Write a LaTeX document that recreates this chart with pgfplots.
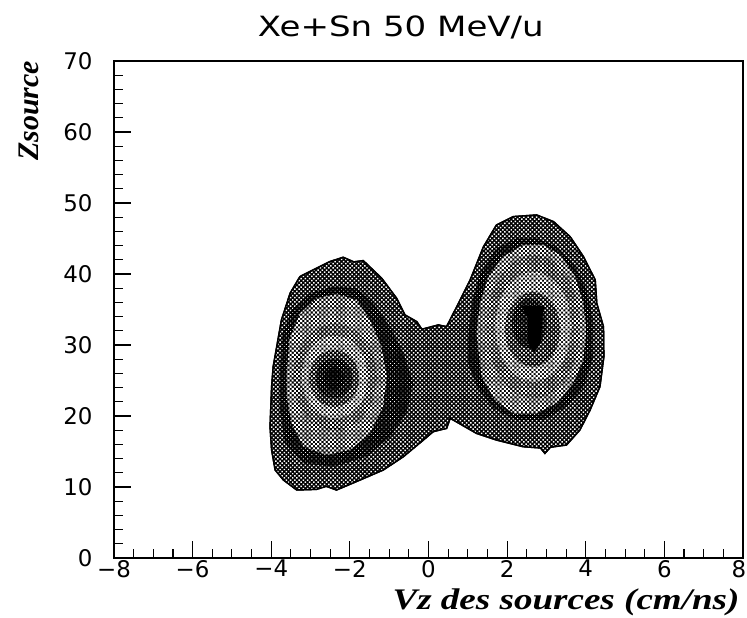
\documentclass[border=0pt]{standalone}
\usepackage{pgfplots}
\pgfplotsset{compat=1.18}
\usepackage{fontspec}
\setmainfont{DejaVu Sans}
\newfontfamily\lab{Liberation Serif}
\usetikzlibrary{patterns.meta}
\tikzset{htf/.style={fill=black,draw=none,postaction={pattern={Dots[distance=3bp,radius=#1bp,angle=45]},pattern color=white}}}
\begin{document}
\begin{tikzpicture}[x=1bp,y=1bp]
\path[use as bounding box] (-114,-60) rectangle (633,558);
\begin{axis}[
  at={(0,0)},anchor=south west,
  scale only axis,width=629bp,height=497bp,
  xmin=-8,xmax=8,ymin=0,ymax=70,
  axis line style={line width=1.3bp},
  tick style={black,line width=1.1bp},
  tick align=inside,
  xtick pos=bottom,ytick pos=left,
  xtick={-8,-6,-4,-2,0,2,4,6,8},
  xticklabels={−8,−6,−4,−2,0,2,4,6,\hspace*{-8bp}8},
  ytick={0,10,20,30,40,50,60,70},
  yticklabels={0,10,20,30,40,50,60,70},
  minor x tick num=3,minor y tick num=4,
  major tick length=17bp,minor tick length=9bp,
  tick label style={font=\fontsize{23}{25}\selectfont},
  xticklabel style={yshift=-1bp,inner ysep=1bp},
  yticklabel style={xshift=-18bp},
  title={\scalebox{1.22}[1]{Xe+Sn 50 MeV/u}},
  title style={at={(axis description cs:0.456,1.037)},anchor=base,font=\fontsize{28}{30}\selectfont},
  xlabel={\scalebox{1.24}[1]{Vz des sources (cm/ns)}},
  xlabel style={at={(axis description cs:1.0,-0.103)},anchor=base east,inner ysep=0pt,font=\fontsize{30}{30}\selectfont\lab\bfseries\itshape},
  ylabel={Zsource},
  ylabel style={at={(axis description cs:-0.135,0.9)},anchor=center,font=\fontsize{30}{32}\selectfont\lab\bfseries\itshape},
  axis on top,
]
% outer contour
\addplot[fill=black,draw=black,line width=1.5bp,postaction={pattern={Dots[distance=3bp,radius=1.05bp,angle=45]},pattern color=white}] coordinates {
(-3.27,39.63)(-2.85,40.80)(-2.51,41.74)(-2.17,42.35)(-1.9,41.7)(-1.66,41.88)(-1.19,39.39)(-0.81,36.57)(-0.60,34.23)(-0.30,33.29)(-0.17,32.21)(0.25,32.82)(0.46,32.58)(0.72,35.40)(1.06,39.16)(1.40,43.85)(1.73,46.90)(2.16,48.08)(2.75,48.31)(3.18,47.37)(3.60,45.26)(3.94,42.44)(4.24,39.16)(4.28,35.87)(4.45,32.58)(4.46,28.36)(4.36,24.13)(4.11,20.85)(3.85,18.03)(3.51,15.92)(3.1,15.6)(2.96,14.74)(2.85,15.5)(2.41,15.68)(1.73,16.62)(1.22,17.56)(0.63,19.44)(0.55,19.67)(0.46,18.26)(0.12,17.80)(-0.13,16.62)(-0.64,14.27)(-1.15,12.40)(-1.74,10.99)(-2.34,9.58)(-2.6,10.1)(-2.85,9.67)(-3.35,9.58)(-3.69,10.99)(-3.90,12.40)(-3.99,15.21)(-4.03,18.50)(-3.99,24.13)(-3.95,26.95)(-3.74,33.52)(-3.52,37.28)(-3.27,39.63)} --cycle;
% left dark ring
\addplot[htf=0.6] coordinates {
(-3.78,25.54)(-3.74,31.18)(-3.48,34.93)(-3.02,37.28)(-2.42,38.22)(-1.83,37.98)(-1.40,35.87)(-0.98,32.58)(-0.64,28.83)(-0.39,24.60)(-0.56,20.38)(-0.98,17.09)(-1.57,14.27)(-2.42,12.87)(-3.18,13.34)(-3.65,16.15)(-3.78,20.85)} --cycle;
% left light
\addplot[htf=1.45] coordinates {
(-3.61,25.54)(-3.54,30.71)(-3.27,34.46)(-2.85,36.57)(-2.34,37.18)(-1.83,36.34)(-1.49,33.52)(-1.19,29.77)(-1.06,25.54)(-1.15,21.32)(-1.49,17.56)(-2.00,15.21)(-2.59,14.51)(-3.18,15.68)(-3.48,18.97)(-3.59,22.26)} --cycle;
\addplot[smooth,htf=1.3] coordinates {
(-1.32,25.5)(-1.46,29.25)(-1.85,32.0)(-2.38,33.0)(-2.91,32.0)(-3.30,29.25)(-3.44,25.5)(-3.30,21.75)(-2.91,19.0)(-2.38,18.0)(-1.85,19.0)(-1.46,21.75)(-1.32,25.5)};
\addplot[smooth,htf=1.6] coordinates {
(-1.53,25.5)(-1.64,28.44)(-1.955,30.58)(-2.38,31.37)(-2.805,30.58)(-3.12,28.44)(-3.23,25.5)(-3.12,22.56)(-2.805,20.42)(-2.38,19.63)(-1.955,20.42)(-1.64,22.56)(-1.53,25.5)};
\addplot[smooth,htf=1.12] coordinates {
(-1.76,25.3)(-1.85,27.3)(-2.08,28.76)(-2.40,29.3)(-2.72,28.76)(-2.95,27.3)(-3.04,25.3)(-2.95,23.3)(-2.72,21.84)(-2.40,21.3)(-2.08,21.84)(-1.85,23.3)(-1.76,25.3)};
\addplot[smooth,htf=0.72] coordinates {
(-1.93,25.3)(-1.99,26.71)(-2.165,27.74)(-2.40,28.12)(-2.635,27.74)(-2.81,26.71)(-2.87,25.3)(-2.81,23.89)(-2.635,22.86)(-2.40,22.48)(-2.165,22.86)(-1.99,23.89)(-1.93,25.3)};
\addplot[smooth,htf=0.45] coordinates {
(-2.15,25.3)(-2.18,26.1)(-2.275,26.69)(-2.40,26.9)(-2.525,26.69)(-2.62,26.1)(-2.65,25.3)(-2.62,24.5)(-2.525,23.91)(-2.40,23.7)(-2.275,23.91)(-2.18,24.5)(-2.15,25.3)};
% right dark ring
\addplot[htf=0.6] coordinates {
(1.01,31.18)(1.10,35.87)(1.31,40.10)(1.73,43.62)(2.24,45.03)(2.75,45.03)(3.26,43.85)(3.73,41.03)(4.02,37.75)(4.19,33.52)(4.19,28.36)(3.94,24.13)(3.51,21.32)(2.92,19.44)(2.24,19.44)(1.65,21.08)(1.23,24.13)(1.01,27.42)} --cycle;
% right light
\addplot[htf=1.45] coordinates {
(1.22,31.65)(1.31,35.87)(1.52,39.63)(1.90,42.44)(2.41,44.09)(2.92,44.09)(3.35,42.68)(3.73,39.63)(3.94,35.87)(4.02,32.11)(3.94,27.89)(3.68,24.60)(3.26,21.79)(2.75,20.38)(2.16,20.38)(1.69,22.26)(1.35,25.54)} --cycle;
\addplot[smooth,htf=1.3] coordinates {
(3.86,32.58)(3.70,37.63)(3.265,41.33)(2.67,42.68)(2.075,41.33)(1.64,37.63)(1.48,32.58)(1.64,27.53)(2.075,23.83)(2.67,22.48)(3.265,23.83)(3.70,27.53)(3.86,32.58)};
\addplot[smooth,htf=1.6] coordinates {
(3.645,32.58)(3.514,36.46)(3.158,39.29)(2.67,40.33)(2.182,39.29)(1.826,36.46)(1.695,32.58)(1.826,28.71)(2.182,25.87)(2.67,24.83)(3.158,25.87)(3.514,28.71)(3.645,32.58)};
\addplot[smooth,htf=1.12] coordinates {
(3.35,32.2)(3.256,34.83)(3.0,36.76)(2.65,37.46)(2.3,36.76)(2.044,34.83)(1.95,32.2)(2.044,29.57)(2.3,27.64)(2.65,26.94)(3.0,27.64)(3.256,29.57)(3.35,32.2)};
\addplot[smooth,htf=0.72] coordinates {
(3.0,33.05)(2.941,34.81)(2.78,36.1)(2.56,36.57)(2.34,36.1)(2.179,34.81)(2.12,33.05)(2.179,31.29)(2.34,30.0)(2.56,29.53)(2.78,30.0)(2.941,31.29)(3.0,33.05)};
\addplot[fill=black,draw=none] coordinates {
(2.35,35.5)(2.95,35.5)(2.9,34)(2.86,30.3)(2.68,28.9)(2.52,30.3)(2.52,34)} --cycle;
\end{axis}
\end{tikzpicture}
\end{document}
